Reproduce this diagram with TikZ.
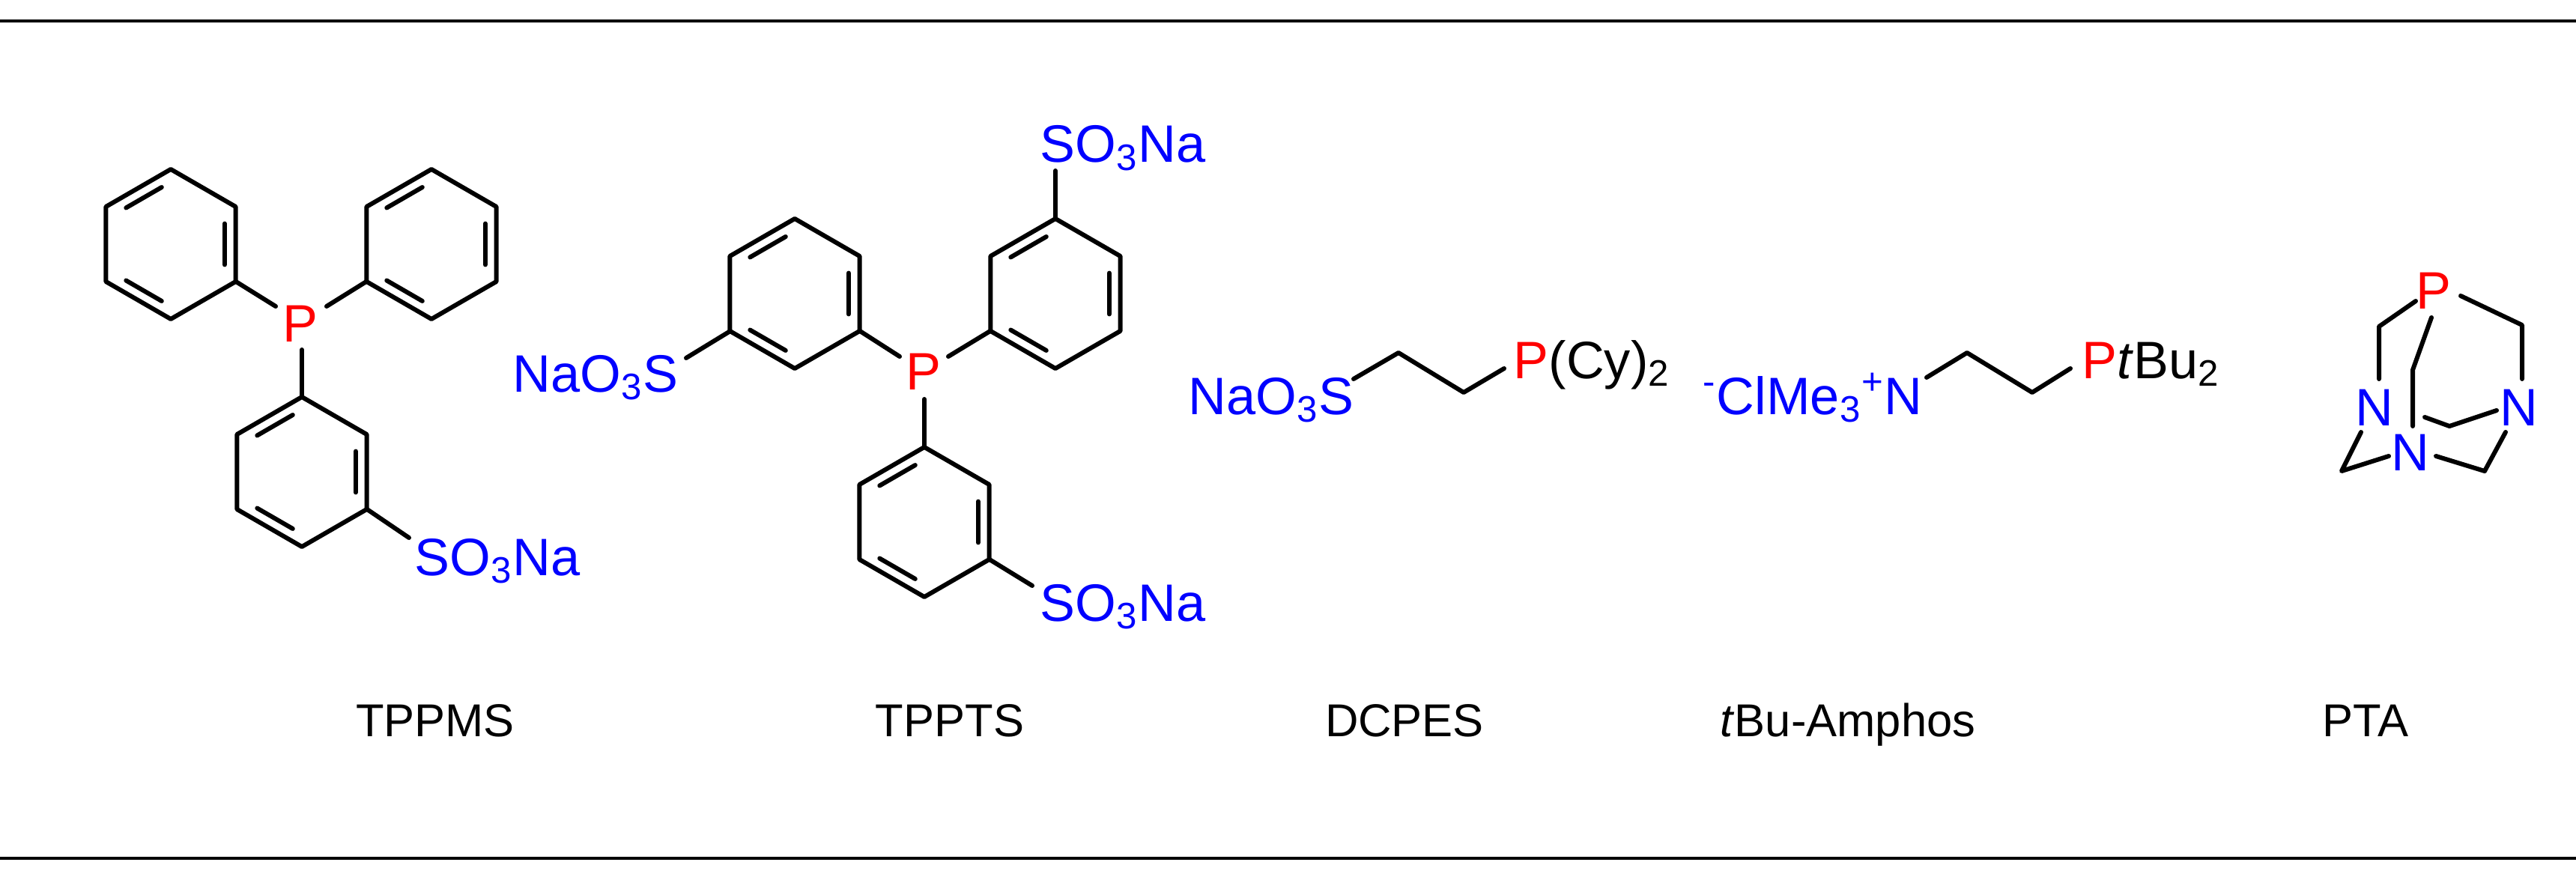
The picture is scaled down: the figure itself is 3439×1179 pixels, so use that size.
\documentclass[tikz,border=0pt]{standalone}
\usepackage{fontspec}
\setmainfont{Liberation Sans}
\usetikzlibrary{calc}
\definecolor{pblue}{RGB}{0,0,255}
\definecolor{pred}{RGB}{255,0,0}
\tikzset{bond/.style={line width=1.7pt,line cap=round,line join=round},
 atom/.style={inner sep=0pt,font=\fontsize{20}{20}\selectfont},
 lbl/.style={inner sep=0pt,font=\fontsize{17.5}{18}\selectfont}}
\newcommand{\benz}[2]{%
 \begin{scope}[shift={(#1,#2)}]
 \draw[bond] (90:100)--(30:100)--(-30:100)--(-90:100)--(-150:100)--(150:100)--cycle;
 \draw[bond,shorten <=4pt,shorten >=4pt] (90:83)--(150:83);
 \draw[bond,shorten <=4pt,shorten >=4pt] (30:83)--(-30:83);
 \draw[bond,shorten <=4pt,shorten >=4pt] (-90:83)--(-150:83);
 \end{scope}}
\begin{document}
\begin{tikzpicture}[x=0.01cm,y=-0.01cm]
\useasboundingbox (0,0) rectangle (3439,1179);
\draw[line width=1.3pt] (0,28)--(3439,28);
\draw[line width=1.3pt] (0,1146)--(3439,1146);
% TPPMS
\benz{228}{326}\benz{576}{326}\benz{403}{630}
\node[atom,text=pred] (p1) at (401,456) [anchor=base] {P};
\draw[bond] (315,376)--(368,409);
\draw[bond] (489,376)--(436,409);
\draw[bond] (403,467)--(403,530);
\draw[bond] (490,680)--(546,718);
\node[atom,text=pblue,anchor=base west] (s1) at (553,768) {SO\textsubscript{3}Na};
% TPPTS
\benz{1061}{392}\benz{1409}{392}\benz{1234}{697}
\node[atom,text=pred] (p2) at (1233,520) [anchor=base] {P};
\draw[bond] (1148,442)--(1201,476);
\draw[bond] (1322,442)--(1266,476);
\draw[bond] (1234,533)--(1234,597);
\draw[bond] (975,442)--(916,478);
\draw[bond] (1321,747)--(1378,782);
\draw[bond] (1409,292)--(1409,228);
\node[atom,text=pblue,anchor=base west] (s2) at (1388,217) {SO\textsubscript{3}Na};
\node[atom,text=pblue,anchor=base east] (s3) at (906,523) {NaO\textsubscript{3}S};
\node[atom,text=pblue,anchor=base west] (s4) at (1388,829) {SO\textsubscript{3}Na};
% DCPES
\node[atom,text=pblue,anchor=base west] (s5) at (1586,553) {NaO\textsubscript{3}S};
\draw[bond] (1807,506)--(1867,471)--(1954,524)--(2008,492);
\node[atom,anchor=base west] (p3) at (2020,505) {\textcolor{pred}{P}(Cy)\textsubscript{2}};
% tBu-Amphos
\node[atom,text=pblue,anchor=base west] (n1) at (2273,553) {\textsuperscript{-}ClMe\textsubscript{3}\textsuperscript{+}N};
\draw[bond] (2572,504)--(2626,471)--(2713,524)--(2764,492);
\node[atom,anchor=base west] (p4) at (2779,505) {\textcolor{pred}{P}\textit{t}Bu\textsubscript{2}};
% PTA
\node[atom,text=pred,anchor=base] (p5) at (3249,412) {P};
\node[atom,text=pblue,anchor=base] (na) at (3170,568) {N};
\node[atom,text=pblue,anchor=base] (nb) at (3363,568) {N};
\node[atom,text=pblue,anchor=base] (nc) at (3218,628) {N};
\draw[bond] (3225,402)--(3176,436)--(3176,506);
\draw[bond] (3285,395)--(3367,434)--(3367,506);
\draw[bond] (3246,424)--(3221,494)--(3221,569);
\draw[bond] (3152,577)--(3126,629)--(3189,609);
\draw[bond] (3252,609)--(3317,629)--(3345,577);
\draw[bond] (3237,557)--(3270,569)--(3333,548);
% labels
\node[lbl,anchor=base] (l1) at (581,983) {TPPMS};
\node[lbl,anchor=base] (l2) at (1268,983) {TPPTS};
\node[lbl,anchor=base] (l3) at (1875,983) {DCPES};
\node[lbl,anchor=base] (l4) at (2467,983) {\textit{t}Bu-Amphos};
\node[lbl,anchor=base] (l5) at (3158,983) {PTA};
\end{tikzpicture}
\end{document}
